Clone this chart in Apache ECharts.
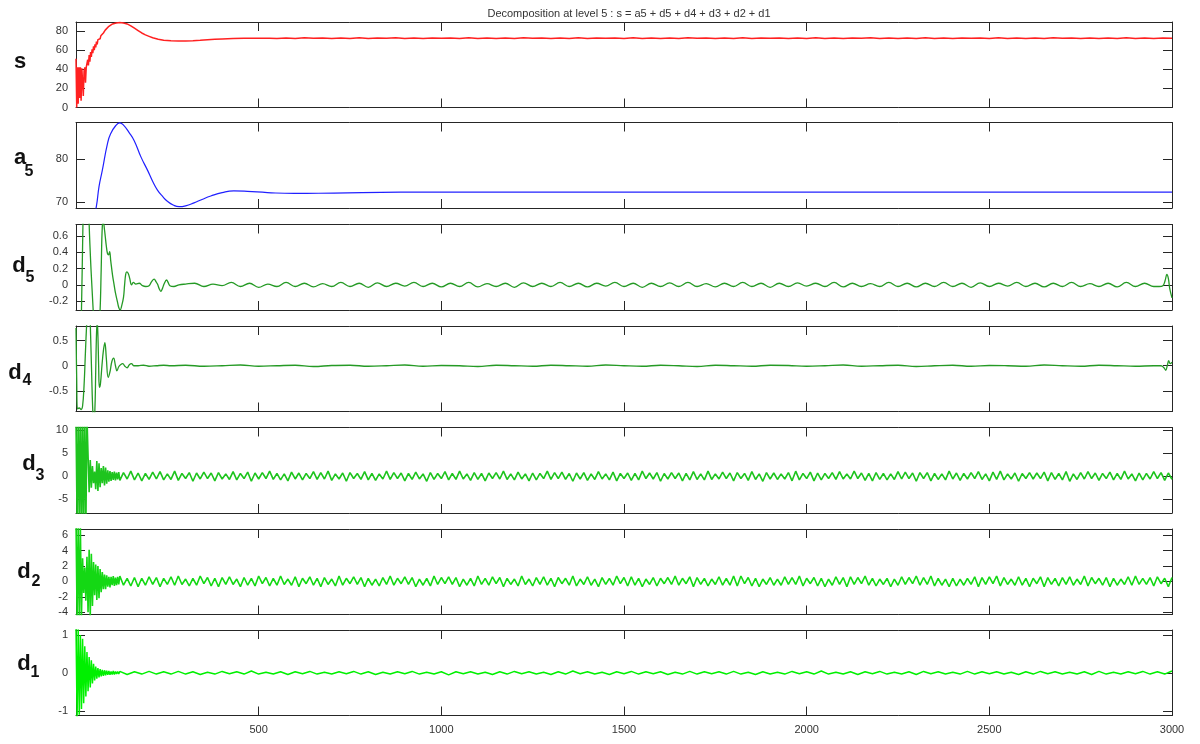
<!DOCTYPE html>
<html><head><meta charset="utf-8">
<script src="https://cdn.jsdelivr.net/npm/echarts@6/dist/echarts.min.js"></script>
<style>html,body{margin:0;padding:0;background:#fff}#c{width:1200px;height:744px}</style>
</head><body><div id="c"></div>
<script>
// ---------- data ----------
const TITLE = 'Decomposition at level 5 : s = a5 + d5 + d4 + d3 + d2 + d1';
const X_TICKS = [500, 1000, 1500, 2000, 2500, 3000];
const Y_TICKS = [[0,20,40,60,80],[70,80],[-0.2,0,0.2,0.4,0.6],[-0.5,0,0.5],[-5,0,5,10],[-4,-2,0,2,4,6],[-1,0,1]];
const Y_RANGES = [[0,89.5],[68.6,88.6],[-0.31,0.745],[-0.91,0.79],[-8,10.6],[-4.3,6.8],[-1.12,1.13]];

const sEarly = [[0,51],[2,0],[4,42],[6,4],[8,42],[10,10],[12,42],[14,7],[16,41],[18,40],[20,12],[22,38],[24,42],[26,26],[28,42],[30,41],
 [32,50],[34,44],[36,55],[38,48],[40,58],[42,53],[44,61],[46,57],[48,64],[50,60],[52,66],[54,63],[56,69],[58,66],[60,71],[62,69],
 [64,73],[66,72],[68,75],[70,74],[72,77],[75,78],[80,81],[85,83],[90,85],[95,86.5],[100,87.5],[110,88.5],[120,89],[130,88.5],
 [140,87.5],[150,85.5],[160,83],[170,80.5],[180,78],[190,76],[200,74.5],[210,73],[225,71.5],[240,70.5],[260,69.8],[280,69.5],
 [300,69.5],[320,69.8],[340,70.3],[360,70.9],[380,71.4],[400,71.8],[430,72.3],[460,72.6],[500,72.6],[530,72.5]];
const sTail = [
 72.3,72.8,72.2,72.9,72.4,72.7,72.2,72.8,72.3,72.9,
 72.2,72.8,72.4,72.9,72.3,72.7,72.2,72.8,72.4,72.8,
 72.3,72.9,72.2,72.7,72.3,72.8,72.2,72.9,72.4,72.8,
 72.2,72.7,72.3,72.9,72.2,72.8,72.4,72.7,72.3,72.9,
 72.2,72.8,72.3,72.8,72.2,72.9,72.4,72.7,72.2,72.8,
 72.3,72.9,72.2,72.8,72.4,72.7,72.3,72.8,72.2,72.9,
 72.3,72.7,72.2,72.8,72.4,72.9,72.2,72.8,72.3,72.7,
 72.2,72.9,72.3,72.8,72.2,72.7,72.4,72.8,72.3,72.9,
 72.2,72.8,72.3,72.7,72.2,72.9,72.4,72.8,72.2,72.8,
 72.3,72.7,72.2,72.9,72.3,72.8,72.2,72.8,72.4];

const a5Pts = [[0,40],[20,50],[40,62],[56,69.1],[63,73.6],[72,77.4],[86,83.6],[95,86],[109,87.9],[120,88.5],[130,88],
 [145,86.3],[159,84.4],[178,80.5],[196,77.4],[210,74.8],[223,72.8],[237,71.3],[250,70.2],[266,69.3],[282,68.9],[300,69.1],
 [323,69.8],[345,70.6],[369,71.4],[400,72.2],[432,72.6],[469,72.5],[524,72.2],[597,72.0],[706,72.1],[888,72.3],[1200,72.3],
 [1600,72.3],[2000,72.3],[2500,72.3],[2800,72.3],[3000,72.3]];

const d5Early = [[0,-0.9],[5,-1.3],[10,-1.0],[15,-0.31],[19,0.745],[24,1.6],[29,1.8],[33,1.3],[36,0.75],[41,0.2],[47,-0.31],
 [52,-0.8],[57,-0.9],[62,-0.6],[66,-0.31],[69,0.2],[72,0.72],[75,0.77],[78,0.68],[80,0.6],[83,0.48],[86,0.39],[89,0.37],
 [92,0.41],[95,0.3],[100,0.12],[104,0.01],[108,-0.1],[113,-0.2],[117,-0.28],[121,-0.31],[125,-0.26],[130,-0.155],[133,0.0],
 [136,0.13],[139,0.16],[143,0.14],[147,0.08],[152,0.0],[157,0.03],[164,0.01],[173,0.02],[182,-0.01],[191,-0.02],[200,-0.01],
 [207,0.04],[214,0.07],[219,0.04],[223,0.01],[228,-0.05],[232,-0.08],[237,-0.04],[241,0.01],[248,0.06],[252,0.03],[257,-0.01],
 [268,-0.02],[282,0.0],[300,0.01]];
const d5Tail = [
 0.02,-0.02,0.01,-0.01,0.03,-0.02,0.02,-0.03,0.01,-0.02,
 0.03,-0.02,0.02,-0.025,0.015,-0.02,0.03,-0.02,0.02,-0.03,
 0.025,-0.02,0.02,-0.015,0.03,-0.02,0.02,-0.025,0.02,-0.02,
 0.03,-0.025,0.015,-0.02,0.02,-0.03,0.025,-0.02,0.02,-0.02,
 0.03,-0.02,0.02,-0.025,0.02,-0.015,0.03,-0.02,0.02,-0.03,
 0.02,-0.02,0.025,-0.02,0.03,-0.02,0.015,-0.025,0.02,-0.02,
 0.03,-0.02,0.02,-0.03,0.02,-0.02,0.025,-0.015,0.02,-0.02,
 0.03,-0.025,0.02,-0.02,0.015,-0.02,0.03,-0.02,0.02,-0.025,
 0.02,-0.02,0.03,-0.02,0.02,-0.03,0.025,-0.02,0.02,-0.015,
 0.03,-0.02,0.02,-0.025,0.02,-0.02,0.03,-0.02,0.015,-0.02,
 0.02,-0.025,0.03,-0.02,0.02,-0.02];
const d5End = [[2965,-0.02],[2975,-0.01],[2981,0.05],[2986,0.13],[2990,0.08],[2994,-0.05],[3000,-0.16]];

const d4Early = [[0,0.75],[2,-0.3],[4,-0.86],[9,-0.84],[14,-0.87],[18,-0.8],[22,-0.4],[26,0.3],[29,0.8],[33,1.3],[37,1.2],
 [40,0.6],[43,-0.2],[46,-0.9],[49,-1.2],[52,-0.8],[54,-0.1],[56,0.6],[58,0.9],[60,0.6],[62,0.0],[64,-0.43],[67,-0.35],
 [71,0.0],[75,0.3],[79,0.46],[83,0.15],[88,-0.23],[93,-0.12],[98,0.08],[103,0.15],[108,0.0],[112,-0.1],[117,-0.02],
 [122,0.02],[128,0.04],[134,-0.01],[140,-0.04],[146,0.02],[152,0.04],[158,0.0],[170,0.0],[185,0.01],[200,-0.01],
 [220,0.0],[240,0.01],[260,0.0]];
const d4Tail = [
 0.01,-0.01,0.0,0.015,-0.01,0.0,0.01,-0.015,0.005,0.01,
 -0.01,0.0,0.015,-0.01,0.005,0.0,-0.015,0.01,0.0,-0.01,
 0.01,0.0,-0.01,0.015,0.0,-0.01,0.01,0.0,-0.015,0.01,
 0.0,-0.01,0.01,0.005,-0.01,0.0,0.015,-0.01,0.0,0.01,
 -0.015,0.0,0.01,-0.01,0.005,0.0,-0.01,0.015,0.0,-0.01,
 0.01,0.0,-0.01,0.0];
const d4End = [[2970,0.0],[2978,-0.04],[2983,-0.09],[2987,0.0],[2991,0.1],[2995,0.04],[3000,0.07]];

const d3Early = [12,-10,14,-12,15,-13,14,-12,15,-11,
 13,4.5,-3.5,3.5,-2.5,2.2,-1.5,1.0,-2.8,3.3,
 -3.2,2.8,-2.4,1.8,-1.5,2.2,-2.0,1.9,-1.6,1.3,
 -1.2,1.1,-1.0,0.9,-0.8,1.0,-0.9,0.8,-0.7,0.9];
const d3Tail = [
 -0.9,0.8,-0.6,1.1,-0.8,0.7,-1.0,0.6,-0.7,0.9,
 -0.6,1.0,-0.8,0.5,-0.7,1.1,-0.9,0.6,-0.5,0.8,
 -1.1,0.7,-0.6,0.9,-0.5,0.7,-1.0,0.8,-0.6,0.5,
 -0.7,1.0,-0.8,0.6,-0.5,0.9,-1.1,0.7,-0.6,0.8,
 -0.5,1.1,-0.7,0.6,-0.8,0.5,-1.0,0.9,-0.6,0.7,
 -0.8,0.6,-0.5,1.0,-0.7,0.8,-0.6,1.1,-0.9,0.5,
 -0.6,0.7,-1.1,0.8,-0.5,0.6,-0.7,1.0,-0.8,0.6,
 -0.9,0.5,-0.6,1.1,-0.7,0.8,-0.5,0.7,-1.0,0.6,
 -0.7,0.9,-0.6,0.5,-1.1,0.8,-0.7,0.6,-0.5,1.0,
 -0.8,0.6,-0.7,1.1,-0.6,0.5,-0.9,0.8,-0.7,0.6,
 -1.0,0.7,-0.5,0.8,-0.6,1.1,-0.7,0.5,-0.8,0.9,
 -0.6,0.5,-1.0,0.7,-0.8,0.6,-0.5,1.1,-0.7,0.8,
 -0.5,0.9,-0.7,0.6,-1.1,0.7,-0.6,0.8,-0.9,0.5,
 -0.7,1.0,-0.6,0.5,-0.8,0.9,-1.0,0.6,-0.5,0.7,
 -0.9,0.6,-0.8,1.1,-0.5,0.7,-0.6,0.8,-1.1,0.6,
 -0.6,0.8,-0.5,0.7,-1.0,0.6,-0.8,1.0,-0.7,0.5,
 -0.8,1.1,-0.7,0.5,-0.6,0.9,-0.5,0.7,-1.0,0.8,
 -0.5,0.6,-0.9,1.0,-0.7,0.5,-1.1,0.8,-0.6,0.7,
 -0.7,0.5,-0.6,0.8,-1.0,1.1,-0.8,0.6,-0.5,0.9,
 -1.0,0.7,-0.8,0.6,-0.5,0.8,-0.7,1.0,-0.6,0.5,
 -0.6,1.1,-0.5,0.7,-0.9,0.6,-1.0,0.8,-0.7,0.6,
 -0.8,0.5,-0.7,1.0,-0.6,0.9,-0.5,0.7,-1.1,0.8,
 -0.5,0.8,-1.0,0.6,-0.7,0.5,-0.8,1.1,-0.6,0.7,
 -0.9,0.6,-0.6,0.8,-0.5,1.0,-0.7,0.5,-1.0,0.9,
 -0.7,1.1,-0.8,0.5,-0.6,0.7,-1.1,0.6,-0.5,0.8,
 -0.6,0.7,-0.5,0.9,-1.0,0.8,-0.7,0.6,-0.8,1.0,
 -1.1,0.5,-0.7,0.8,-0.6,1.0,-0.5,0.7,-0.9,0.6,
 -0.5,0.9,-0.8,0.6,-0.7,1.1,-0.6,0.5,-1.0,0.7,
 -0.8,0.6,-0.6,1.0,-0.5,0.8,-0.9,0.7,-0.7,0.9];

const d2Early = [8,-5,7.5,-5,7,-4.5,3,-1.5,1.8,-2.5,
 3.2,-4.0,4.1,-4.5,3.6,-3.2,2.5,-1.8,2.2,-2.4,
 2.0,-2.2,1.6,-1.4,1.2,-1.0,0.9,-1.0,0.8,-0.7,
 0.6,-0.8,0.6,-0.5,0.7,-0.6,0.5,-0.5,0.6,-0.4];
const d2Tail = [
 0.7,-0.5,0.4,-0.6,0.5,-0.7,0.4,-0.5,0.6,-0.4,
 0.5,-0.7,0.4,-0.4,0.6,-0.5,0.7,-0.4,0.3,-0.6,
 0.4,-0.5,0.7,-0.3,0.5,-0.6,0.4,-0.7,0.5,-0.4,
 0.6,-0.4,0.3,-0.7,0.5,-0.5,0.4,-0.6,0.7,-0.3,
 0.5,-0.6,0.4,-0.5,0.7,-0.4,0.3,-0.5,0.6,-0.7,
 0.4,-0.3,0.6,-0.5,0.4,-0.7,0.5,-0.4,0.3,-0.6,
 0.7,-0.5,0.4,-0.3,0.6,-0.4,0.5,-0.7,0.4,-0.5,
 0.3,-0.6,0.5,-0.4,0.7,-0.5,0.4,-0.3,0.6,-0.4,
 0.5,-0.7,0.3,-0.5,0.4,-0.6,0.7,-0.4,0.5,-0.3,
 0.6,-0.4,0.5,-0.7,0.3,-0.5,0.4,-0.6,0.7,-0.4,
 0.4,-0.5,0.6,-0.3,0.5,-0.7,0.4,-0.4,0.3,-0.6,
 0.7,-0.4,0.3,-0.6,0.5,-0.4,0.6,-0.5,0.4,-0.7,
 0.5,-0.3,0.4,-0.5,0.7,-0.6,0.3,-0.4,0.6,-0.5,
 0.3,-0.7,0.5,-0.4,0.4,-0.5,0.7,-0.3,0.5,-0.6,
 0.6,-0.5,0.4,-0.7,0.3,-0.4,0.5,-0.6,0.4,-0.3,
 0.5,-0.4,0.7,-0.5,0.4,-0.3,0.6,-0.7,0.5,-0.4,
 0.4,-0.6,0.3,-0.4,0.6,-0.5,0.4,-0.5,0.7,-0.6,
 0.7,-0.3,0.5,-0.6,0.4,-0.7,0.3,-0.4,0.5,-0.5,
 0.3,-0.5,0.6,-0.4,0.5,-0.4,0.7,-0.6,0.4,-0.3,
 0.5,-0.6,0.4,-0.7,0.3,-0.5,0.6,-0.4,0.5,-0.7,
 0.6,-0.4,0.5,-0.3,0.7,-0.5,0.4,-0.6,0.3,-0.4,
 0.4,-0.7,0.3,-0.5,0.6,-0.4,0.5,-0.3,0.7,-0.5,
 0.5,-0.4,0.7,-0.6,0.4,-0.5,0.3,-0.7,0.4,-0.6,
 0.3,-0.5,0.4,-0.4,0.6,-0.7,0.5,-0.4,0.6,-0.3,
 0.7,-0.6,0.5,-0.4,0.3,-0.5,0.6,-0.5,0.4,-0.7,
 0.4,-0.3,0.6,-0.7,0.5,-0.4,0.4,-0.6,0.5,-0.4,
 0.6,-0.5,0.3,-0.4,0.7,-0.6,0.5,-0.3,0.4,-0.5,
 0.5,-0.7,0.4,-0.5,0.3,-0.4,0.6,-0.5,0.7,-0.4,
 0.4,-0.4,0.5,-0.6,0.6,-0.3,0.4,-0.7,0.5,-0.5];

const d1Early = [1.2,-1.2,1.15,-1.1,1.0,-0.95,0.9,-0.8,0.7,-0.62,
 0.55,-0.48,0.42,-0.38,0.33,-0.28,0.24,-0.2,0.17,-0.15,
 0.13,-0.12,0.1,-0.09,0.08,-0.08,0.07,-0.06,0.06,-0.05,
 0.05,-0.05,0.04,-0.04,0.05,-0.04,0.04,-0.03,0.04,-0.03];
const d1Tail = [
 0.04,-0.04,0.03,-0.03,0.04,-0.03,0.03,-0.03,0.04,-0.03,
 0.03,-0.04,0.02,-0.03,0.04,-0.02,0.03,-0.03,0.05,-0.03,
 0.02,-0.03,0.03,-0.04,0.03,-0.02,0.04,-0.03,0.02,-0.03,
 0.03,-0.02,0.04,-0.03,0.03,-0.04,0.02,-0.03,0.03,-0.02,
 0.04,-0.03,0.02,-0.03,0.03,-0.05,0.03,-0.02,0.03,-0.03,
 0.02,-0.04,0.03,-0.03,0.04,-0.02,0.03,-0.03,0.02,-0.04,
 0.03,-0.03,0.05,-0.02,0.03,-0.03,0.02,-0.04,0.03,-0.02,
 0.04,-0.03,0.03,-0.02,0.03,-0.04,0.02,-0.03,0.04,-0.03,
 0.03,-0.02,0.03,-0.03,0.04,-0.03,0.02,-0.04,0.03,-0.03,
 0.02,-0.03,0.04,-0.02,0.03,-0.03,0.05,-0.03,0.02,-0.03,
 0.03,-0.04,0.03,-0.02,0.04,-0.03,0.02,-0.03,0.03,-0.04,
 0.04,-0.02,0.03,-0.03,0.02,-0.03,0.04,-0.03,0.03,-0.02,
 0.03,-0.03,0.02,-0.04,0.03,-0.03,0.04,-0.02,0.03,-0.03,
 0.02,-0.03,0.03,-0.04,0.04,-0.03,0.02,-0.03,0.03,-0.02,
 0.04,-0.03,0.03,-0.03,0.05];

// ---------- build ----------
function seq(start, step, ys) { return ys.map((y, i) => [start + i * step, y]); }
function upTo(pts, maxX) { return pts.filter(p => p[0] <= maxX); }

const seriesData = [
  upTo(sEarly.concat(seq(550, 25, sTail)), 3000),
  a5Pts,
  d5Early.concat(upTo(seq(325, 25, d5Tail), 2950), d5End),
  d4Early.concat(upTo(seq(300, 50, d4Tail), 2950), d4End),
  upTo(seq(0, 3, d3Early).concat(seq(120, 10, d3Tail)), 3000),
  upTo(seq(0, 3, d2Early).concat(seq(120, 10, d2Tail)), 3000),
  upTo(seq(0, 3, d1Early).concat(seq(120, 20, d1Tail)), 3000)
];
const COLORS = ['#ff2020', '#2020ff', '#259a25', '#259a25', '#1ec41e', '#14d814', '#00f000'];
const WIDTHS = [1.5, 1.2, 1.3, 1.3, 1.6, 1.6, 1.5];
const SMOOTH = [false, true, 0.4, 0.4, false, false, false];
const TOPS = [22, 122.5, 224.5, 326, 427.5, 529, 630];
const HEIGHT = 85.5;
const FONT = '"Liberation Sans", Arial, Helvetica, sans-serif';
const FRAME = '#262626';

const grids = [], xAxes = [], yAxes = [], series = [];
for (let i = 0; i < 7; i++) {
  grids.push({ left: 76, right: 28, top: TOPS[i], height: HEIGHT, containLabel: false });
  const last = i === 6;
  const xBase = {
    type: 'value', gridIndex: i, min: 0, max: 3000,
    axisLine: { show: true, onZero: false, lineStyle: { color: FRAME, width: 1 } },
    axisTick: { show: true, inside: true, length: 9, customValues: X_TICKS, lineStyle: { color: FRAME } },
    splitLine: { show: false }
  };
  xAxes.push(Object.assign({}, xBase, { position: 'bottom',
    axisLabel: { show: last, customValues: X_TICKS, color: '#333', fontSize: 11, fontFamily: FONT, margin: 9,
      formatter: v => String(v) } }));
  xAxes.push(Object.assign({}, xBase, { position: 'top', axisLabel: { show: false } }));
  const yBase = {
    type: 'value', gridIndex: i, min: Y_RANGES[i][0], max: Y_RANGES[i][1], scale: true,
    axisLine: { show: true, onZero: false, lineStyle: { color: FRAME, width: 1 } },
    axisTick: { show: true, inside: true, length: 9, customValues: Y_TICKS[i], lineStyle: { color: FRAME } },
    splitLine: { show: false }
  };
  yAxes.push(Object.assign({}, yBase, { position: 'left',
    axisLabel: { show: true, customValues: Y_TICKS[i], color: '#333', fontSize: 11, fontFamily: FONT, margin: 8,
      formatter: v => String(v) } }));
  yAxes.push(Object.assign({}, yBase, { position: 'right', axisLabel: { show: false } }));
  series.push({
    type: 'line', xAxisIndex: 2 * i, yAxisIndex: 2 * i, data: seriesData[i],
    showSymbol: false, symbol: 'none', smooth: SMOOTH[i], clip: true,
    lineStyle: { color: COLORS[i], width: WIDTHS[i] }, animation: false
  });
}

const LABELS = [
  { t: 's', x: 20, y: 62, s: 22 },
  { t: 'a', x: 20, y: 158, s: 22 }, { t: '5', x: 29, y: 172, s: 16 },
  { t: 'd', x: 19, y: 266, s: 22 }, { t: '5', x: 30, y: 278, s: 16 },
  { t: 'd', x: 15, y: 373, s: 22 }, { t: '4', x: 27, y: 381, s: 16 },
  { t: 'd', x: 29, y: 464, s: 22 }, { t: '3', x: 40, y: 476, s: 16 },
  { t: 'd', x: 24, y: 572, s: 22 }, { t: '2', x: 36, y: 582, s: 16 },
  { t: 'd', x: 24, y: 664, s: 22 }, { t: '1', x: 35, y: 673, s: 16 }
];
const graphic = LABELS.map(l => ({
  type: 'text', x: l.x, y: l.y, silent: true,
  style: { text: l.t, font: 'bold ' + l.s + 'px ' + FONT, fill: '#111',
    align: 'center', verticalAlign: 'middle', textAlign: 'center', textVerticalAlign: 'middle' }
}));

const chart = echarts.init(document.getElementById('c'), null, { renderer: 'canvas' });
chart.setOption({
  animation: false,
  backgroundColor: '#fff',
  textStyle: { fontFamily: FONT },
  title: { text: TITLE, left: 624, textAlign: 'center', top: 3,
    textStyle: { fontSize: 11, fontWeight: 'normal', color: '#333', fontFamily: FONT } },
  grid: grids, xAxis: xAxes, yAxis: yAxes, series: series, graphic: graphic
});
</script>
</body></html>
